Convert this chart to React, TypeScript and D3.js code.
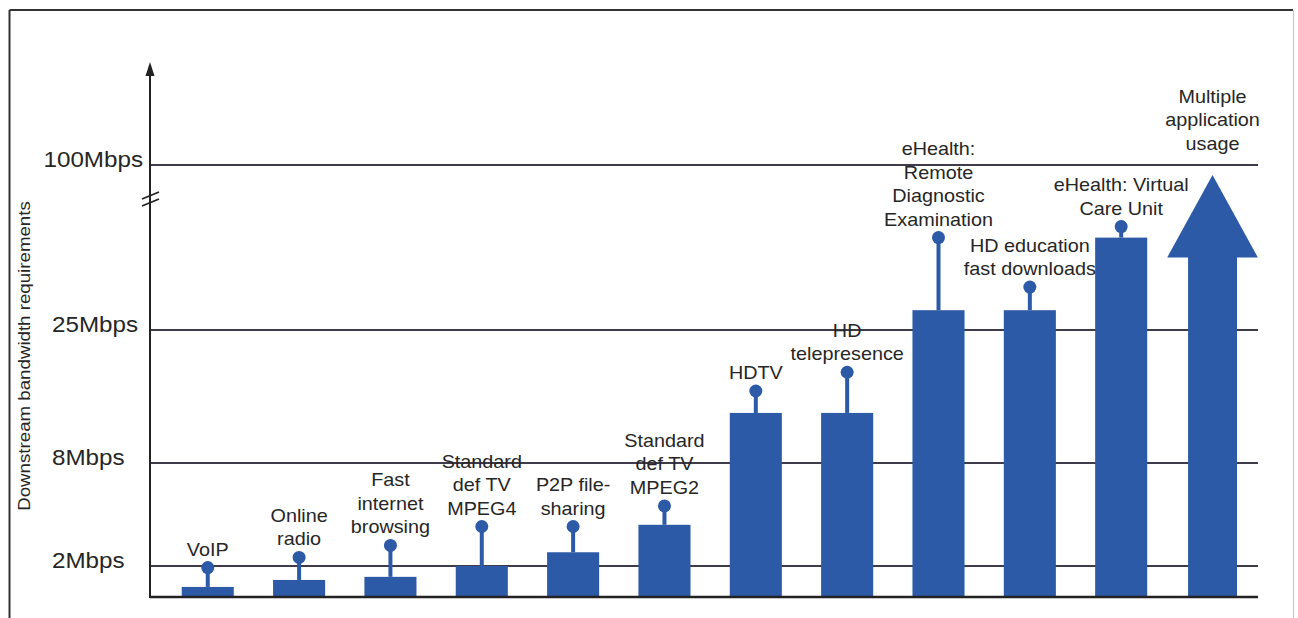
import React from "react";
import * as d3 from "d3";

// ---- data ----
const categories = [
  "VoIP",
  "Online radio",
  "Fast internet browsing",
  "Standard def TV MPEG4",
  "P2P file-sharing",
  "Standard def TV MPEG2",
  "HDTV",
  "HD telepresence",
  "eHealth: Remote Diagnostic Examination",
  "HD education fast downloads",
  "eHealth: Virtual Care Unit",
  "Multiple application usage",
];
const labelLines = [
  ["VoIP"],
  ["Online", "radio"],
  ["Fast", "internet", "browsing"],
  ["Standard", "def TV", "MPEG4"],
  ["P2P file-", "sharing"],
  ["Standard", "def TV", "MPEG2"],
  ["HDTV"],
  ["HD", "telepresence"],
  ["eHealth:", "Remote", "Diagnostic", "Examination"],
  ["HD education", "fast downloads"],
  ["eHealth: Virtual", "Care Unit"],
  ["Multiple", "application", "usage"],
];
// typical requirement (bar top) in Mbps
const baseValues = [0.65, 1.1, 1.3, 2.0, 2.8, 4.4, 14.4, 14.4, 34, 34, 67, 58];
// peak requirement (pin dot / arrow tip) in Mbps
const peakValues = [1.9, 2.5, 3.2, 4.3, 4.3, 5.5, 17.2, 19.6, 67, 44.5, 72, 95.5];
const markKinds = ["bar", "bar", "bar", "bar", "bar", "bar", "bar", "bar", "bar", "bar", "bar", "arrow"];
const axisBreaks = [0, 2, 8, 25, 100]; // piecewise (non-linear) axis
const tickValues = [2, 8, 25, 100];
const tickLabels = ["2Mbps", "8Mbps", "25Mbps", "100Mbps"];
const yTitle = "Downstream bandwidth requirements";

// ---- layout ----
const W = 1298;
const H = 618;
const plotLeft = 150;
const plotRight = 1258;
const plotBottom = 597;
const axisTop = 62;
const breakPositions = [597, 566, 463, 330, 165];

const BLUE = "#2c5aa7";
const GRID = "#3f3b4a";
const TEXT = "#262626";
const FONT = "'Liberation Sans', Arial, sans-serif";
const SX = 1.1;

export default function App() {
  const x = d3
    .scaleBand<string>()
    .domain(categories)
    .range([plotLeft, plotRight])
    .paddingInner(0.43)
    .paddingOuter(0.28)
    .align(0.62);
  const y = d3.scaleLinear().domain(axisBreaks).range(breakPositions);
  const bw = x.bandwidth();

  const lineH = 23.5;

  return (
    <svg
      width={W}
      height={H}
      style={{ position: "absolute", left: 0, top: 0, background: "#fff" }}
      fontFamily={FONT}
    >
      <rect x={0} y={0} width={W} height={H} fill="#fff" />
      {/* frame */}
      <line x1={9.5} y1={10} x2={1293} y2={10} stroke="#333" strokeWidth={2} />
      <line x1={9.5} y1={10} x2={9.5} y2={H} stroke="#333" strokeWidth={2} />
      <line x1={1293.5} y1={10} x2={1293.5} y2={H} stroke="#c8c8c8" strokeWidth={1.2} />

      {/* gridlines */}
      {tickValues.map((t) => (
        <line
          key={"g" + t}
          x1={plotLeft}
          x2={plotRight}
          y1={y(t)}
          y2={y(t)}
          stroke={GRID}
          strokeWidth={2}
        />
      ))}

      {/* tick labels */}
      {tickValues.map((t, i) => {
        const long = tickLabels[i].length > 6;
        return (
          <text
            key={"t" + t}
            transform={`translate(${long ? 143 : 52},${y(t) + 2}) scale(${SX},1)`}
            textAnchor={long ? "end" : "start"}
            fontSize={22}
            fill={TEXT}
          >
            {tickLabels[i]}
          </text>
        );
      })}

      {/* y title */}
      <text
        transform={`translate(30,356) rotate(-90) scale(${SX},1)`}
        textAnchor="middle"
        fontSize={17}
        fill={TEXT}
      >
        {yTitle}
      </text>

      {/* marks */}
      {categories.map((c, i) => {
        const x0 = x(c) as number;
        const cx = x0 + bw / 2;
        const yb = y(baseValues[i]);
        const yp = y(peakValues[i]);
        if (markKinds[i] === "arrow") {
          const shaftW = bw * 0.94;
          const headHalf = bw * 0.87;
          return (
            <g key={c}>
              <rect x={cx - shaftW / 2} y={yb - 1} width={shaftW} height={plotBottom - yb + 1} fill={BLUE} />
              <path
                d={`M${cx - headHalf},${yb} L${cx + headHalf},${yb} L${cx},${yp} Z`}
                fill={BLUE}
              />
            </g>
          );
        }
        return (
          <g key={c}>
            <line x1={cx} x2={cx} y1={yb} y2={yp} stroke={BLUE} strokeWidth={4} />
            <circle cx={cx} cy={yp} r={6.5} fill={BLUE} />
            <rect x={x0} y={yb} width={bw} height={plotBottom - yb} fill={BLUE} />
          </g>
        );
      })}

      {/* category labels */}
      {categories.map((c, i) => {
        const cx = (x(c) as number) + bw / 2;
        const yp = y(peakValues[i]);
        const bottom = yp - (markKinds[i] === "arrow" ? 25 : 12);
        const lines = labelLines[i];
        return (
          <g key={"l" + c}>
            {lines.map((ln, j) => (
              <text
                key={j}
                transform={`translate(${cx},${bottom - (lines.length - 1 - j) * lineH}) scale(${SX},1)`}
                textAnchor="middle"
                fontSize={18}
                fill={TEXT}
              >
                {ln}
              </text>
            ))}
          </g>
        );
      })}

      {/* x baseline */}
      <line x1={plotLeft} x2={plotRight} y1={plotBottom} y2={plotBottom} stroke="#222" strokeWidth={2.5} />

      {/* y axis with arrow */}
      <line x1={plotLeft} x2={plotLeft} y1={plotBottom + 1} y2={axisTop + 10} stroke="#222" strokeWidth={2} />
      <path
        d={`M${plotLeft},${axisTop} L${plotLeft - 4.5},${axisTop + 14} L${plotLeft + 4.5},${axisTop + 14} Z`}
        fill="#222"
      />
      {/* axis break marks */}
      <line x1={142} y1={y(100) + 34} x2={159} y2={y(100) + 27} stroke="#222" strokeWidth={1.8} />
      <line x1={142} y1={y(100) + 41} x2={159} y2={y(100) + 34} stroke="#222" strokeWidth={1.8} />
    </svg>
  );
}
